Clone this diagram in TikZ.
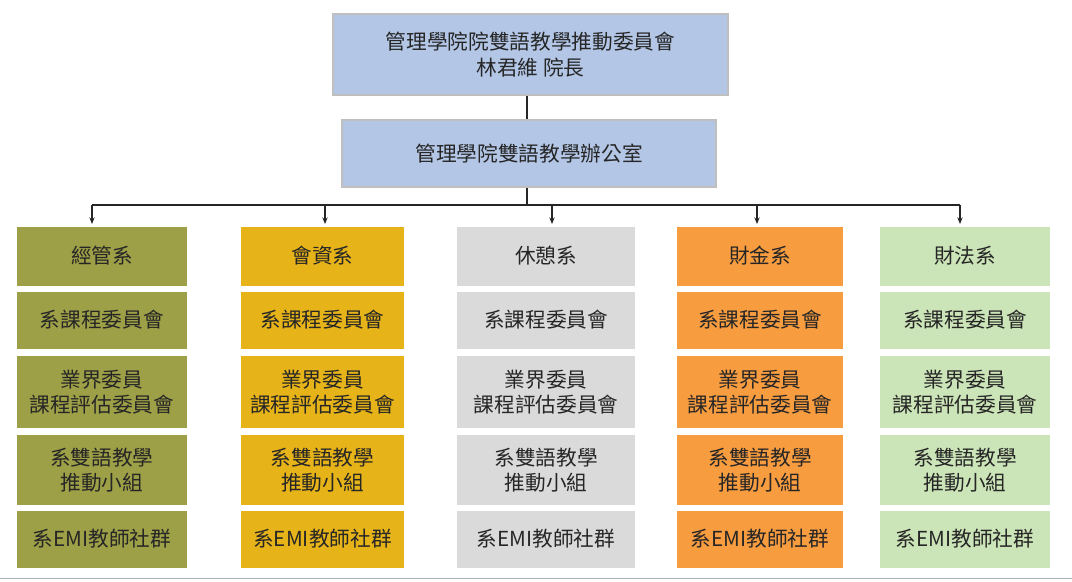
\documentclass[tikz,border=0pt]{standalone}
\usepackage{fontspec}
\newfontfamily\cjk{Noto Sans CJK TC}
\usetikzlibrary{arrows.meta}
\definecolor{cA}{HTML}{9DA046}
\definecolor{cB}{HTML}{E6B319}
\definecolor{cC}{HTML}{DADADA}
\definecolor{cD}{HTML}{F89C40}
\definecolor{cE}{HTML}{CCE5B8}
\definecolor{topc}{HTML}{B3C6E6}
\begin{document}
\begin{tikzpicture}[x=0.75pt,y=-0.75pt,
  box/.style={inner sep=0pt,align=center,font=\cjk\fontsize{15.5}{19}\selectfont,text=black!85},
  top/.style={box,fill=topc,draw=black!25,line width=1.5pt},
  arr/.style={-{Stealth[length=5pt,width=4pt]},black!85,line width=0.8pt}]
\useasboundingbox (0,0) rectangle (1072,582);
\draw[black!30] (0,578) -- (1072,578);
\node[top,minimum width=395*0.75pt,minimum height=81*0.75pt] (t1) at (530.5,54.5) {管理學院院雙語教學推動委員會\\林君維 院長};
\node[top,minimum width=374*0.75pt,minimum height=67*0.75pt] (t2) at (529,153.5) {管理學院雙語教學辦公室};
\draw[black!85,line width=0.8pt] (t1.south -| 527,0) -- (t2.north -| 527,0);
\coordinate (h) at (527,205);
\draw[black!85,line width=0.8pt] (t2.south -| 527,0) -- (h);
\draw[black!85,line width=0.8pt] (92,205) -- (960,205);
\foreach \n/\xl/\xr/\c/\ax/\name in {1/17/187/cA/92/經管系,2/241/404/cB/325/會資系,3/457/635/cC/552/休憩系,4/677/843/cD/757/財金系,5/880/1050/cE/960/財法系}{
  \pgfmathsetmacro\w{(\xr-\xl)*0.75}
  \pgfmathsetmacro\cx{(\xr+\xl)/2}
  \node[box,fill=\c,minimum width=\w pt,minimum height=59*0.75pt] (r1\n) at (\cx,256) {\name};
  \node[box,fill=\c,minimum width=\w pt,minimum height=57*0.75pt] (r2\n) at (\cx,320) {系課程委員會};
  \node[box,fill=\c,minimum width=\w pt,minimum height=72*0.75pt] (r3\n) at (\cx,392) {業界委員\\課程評估委員會};
  \node[box,fill=\c,minimum width=\w pt,minimum height=70*0.75pt] (r4\n) at (\cx,470) {系雙語教學\\推動小組};
  \node[box,fill=\c,minimum width=\w pt,minimum height=57*0.75pt] (r5\n) at (\cx,539) {系EMI教師社群};
  \coordinate (a\n) at (\ax,205);
  \draw[arr] (a\n) -- (\ax,224);
}
\end{tikzpicture}
\end{document}
